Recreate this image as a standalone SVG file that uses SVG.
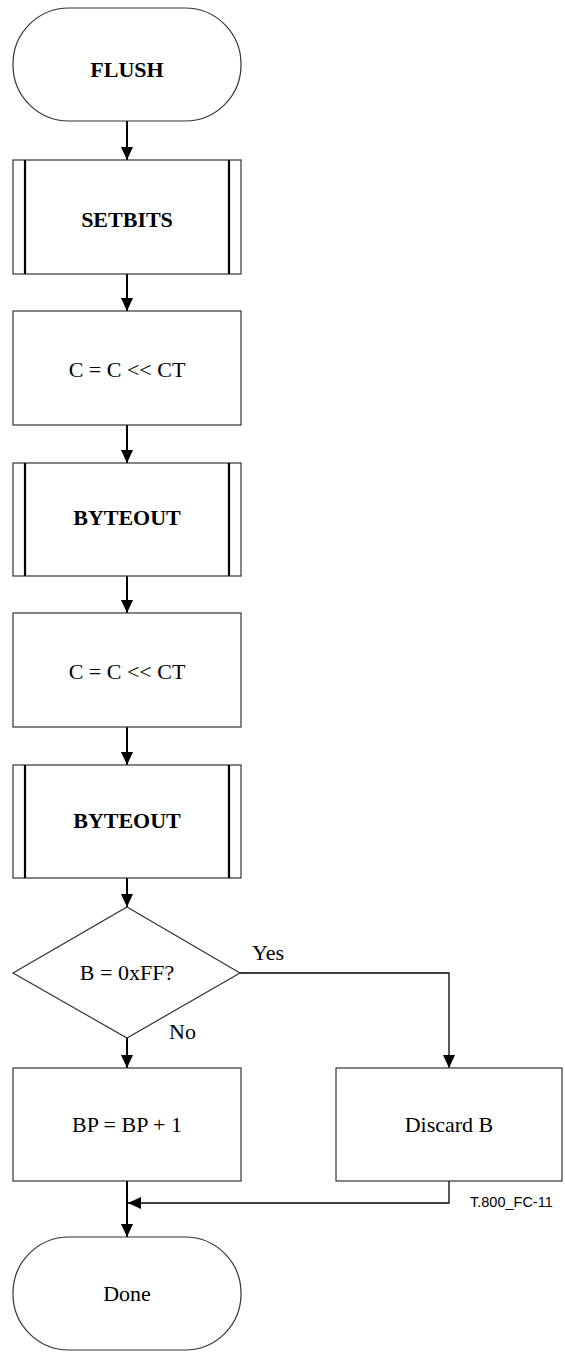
<svg xmlns="http://www.w3.org/2000/svg" width="565" height="1352" viewBox="0 0 565 1352">
<defs>
<style>
.shape{fill:#fff;stroke:#333;stroke-width:1.2}
.bar{stroke:#000;stroke-width:2.2}
.t{font-family:"Liberation Serif","Times New Roman",serif;font-size:22px;fill:#000;text-anchor:middle}
.b{font-weight:bold}
.lbl{font-family:"Liberation Serif","Times New Roman",serif;font-size:22px;fill:#000}
.conn{fill:none;stroke:#000;stroke-width:2}
.thin{fill:none;stroke:#000;stroke-width:1.3}
.fig{font-family:"Liberation Sans",Arial,sans-serif;font-size:14.5px;fill:#000}
</style>
<marker id="ah" markerUnits="userSpaceOnUse" markerWidth="14" markerHeight="12" refX="13" refY="6" orient="auto">
<path d="M0,0 L13,6 L0,12 Z" fill="#000"/>
</marker>
</defs>
<rect width="565" height="1352" fill="#fff"/>
<g id="connectors">
<line class="conn" x1="127" y1="121" x2="127" y2="160" marker-end="url(#ah)"/>
<line class="conn" x1="127" y1="274" x2="127" y2="311" marker-end="url(#ah)"/>
<line class="conn" x1="127" y1="425" x2="127" y2="463" marker-end="url(#ah)"/>
<line class="conn" x1="127" y1="576" x2="127" y2="613" marker-end="url(#ah)"/>
<line class="conn" x1="127" y1="727" x2="127" y2="765" marker-end="url(#ah)"/>
<line class="conn" x1="127" y1="878" x2="127" y2="907" marker-end="url(#ah)"/>
<line class="conn" x1="127" y1="1038" x2="127" y2="1068" marker-end="url(#ah)"/>
<polyline class="thin" points="240,973 449,973 449,1068" marker-end="url(#ah)"/>
<polyline class="thin" points="449,1181 449,1203 128,1203" marker-end="url(#ah)"/>
<line class="conn" x1="127" y1="1181" x2="127" y2="1237" marker-end="url(#ah)"/>
<text class="lbl" x="252" y="960">Yes</text>
<text class="lbl" x="169" y="1039">No</text>
</g>
<g id="flush">
<rect class="shape" x="13" y="8" width="228" height="113" rx="56" ry="56"/>
<text class="t b" x="127" y="77">FLUSH</text>
</g>
<g id="setbits">
<rect class="shape" x="13" y="160" width="228" height="114"/>
<line class="bar" x1="25" y1="160" x2="25" y2="274"/>
<line class="bar" x1="229" y1="160" x2="229" y2="274"/>
<text class="t b" x="127" y="227">SETBITS</text>
</g>
<g id="shift1">
<rect class="shape" x="13" y="311" width="228" height="114"/>
<text class="t" x="127" y="377">C = C &lt;&lt; CT</text>
</g>
<g id="byteout1">
<rect class="shape" x="13" y="463" width="228" height="113"/>
<line class="bar" x1="25" y1="463" x2="25" y2="576"/>
<line class="bar" x1="229" y1="463" x2="229" y2="576"/>
<text class="t b" x="127" y="525">BYTEOUT</text>
</g>
<g id="shift2">
<rect class="shape" x="13" y="613" width="228" height="114"/>
<text class="t" x="127" y="679">C = C &lt;&lt; CT</text>
</g>
<g id="byteout2">
<rect class="shape" x="13" y="765" width="228" height="113"/>
<line class="bar" x1="25" y1="765" x2="25" y2="878"/>
<line class="bar" x1="229" y1="765" x2="229" y2="878"/>
<text class="t b" x="127" y="828">BYTEOUT</text>
</g>
<g id="decision">
<polygon class="shape" points="127,907 240,973 127,1038 13,973"/>
<text class="t" x="127" y="980">B = 0xFF?</text>
</g>
<g id="bpinc">
<rect class="shape" x="13" y="1068" width="228" height="113"/>
<text class="t" x="127" y="1132">BP = BP + 1</text>
</g>
<g id="discard">
<rect class="shape" x="336" y="1068" width="226" height="113"/>
<text class="t" x="449" y="1132">Discard B</text>
</g>
<g id="done">
<rect class="shape" x="13" y="1237" width="228" height="113" rx="56" ry="56"/>
<text class="t" x="127" y="1301">Done</text>
</g>
<text class="fig" x="470" y="1207">T.800_FC-11</text>
</svg>
